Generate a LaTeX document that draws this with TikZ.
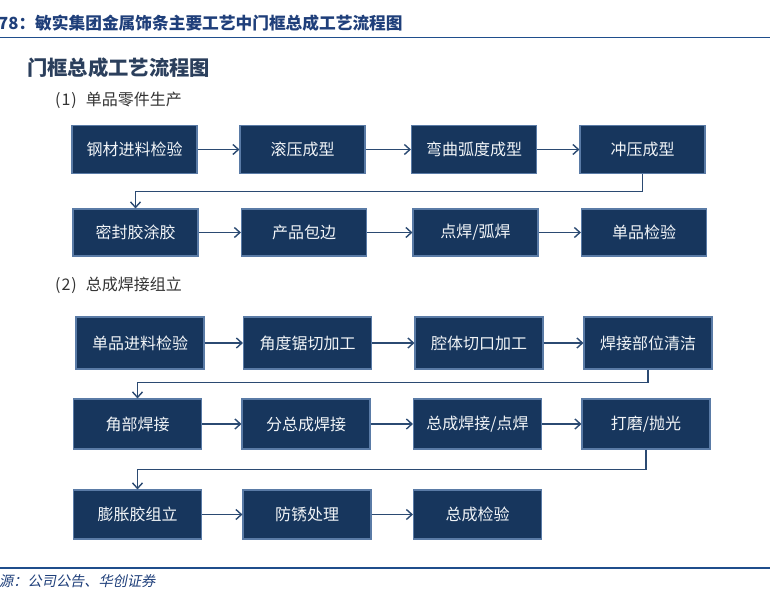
\documentclass[tikz,border=0pt]{standalone}
\usepackage{fontspec}
\setmainfont{Noto Sans CJK SC}
\newfontfamily\slfont{Noto Sans CJK SC}[FakeSlant=0.2]
\usetikzlibrary{arrows.meta}
\definecolor{boxfill}{HTML}{17365D}
\definecolor{boxline}{HTML}{5A7BA6}
\definecolor{arrowc}{HTML}{2B4A72}
\definecolor{hdrblue}{HTML}{1F3F7A}
\definecolor{rulec}{HTML}{1F4E8C}
\definecolor{titlec}{HTML}{2B3F5C}
\definecolor{secc}{HTML}{333333}
\tikzset{
  stepbox/.style={draw=boxline, line width=1.1pt, fill=boxfill, text=white!92!boxline,
    font=\fontsize{16}{18}\selectfont, inner sep=0pt},
  rowA/.style={stepbox, minimum width=125pt, minimum height=48pt},
  rowB/.style={stepbox, minimum width=128pt, minimum height=50pt},
  flow/.style={draw=arrowc, line width=1.4pt, -{Straight Barb[length=5.5pt,width=10pt]}},
  sec/.style={anchor=west, text=secc, font=\fontsize{16}{18}\selectfont, inner sep=0pt},
}
\begin{document}
\begin{tikzpicture}[x=1pt,y=-1pt]
\useasboundingbox (0,0) rectangle (770,601);
% header
\node[anchor=base west, inner sep=0pt, text=hdrblue, font=\bfseries\fontsize{16.7}{18}\selectfont] (hdr) at (-2,30) {78：敏实集团金属饰条主要工艺中门框总成工艺流程图};
\draw[rulec, line width=1.6pt] (0,37.5) coordinate (hl) -- (770,37.5) coordinate (hr);
\node[anchor=west, inner sep=0pt, text=titlec, font=\bfseries\fontsize{20.3}{24}\selectfont] (title) at (27,68) {门框总成工艺流程图};
\node[sec] (s1) at (55,100) {(\hspace{1pt}1\hspace{1pt})\hspace{9pt}单品零件生产};
\node[sec] (s2) at (55,285) {(\hspace{1pt}2\hspace{1pt})\hspace{9pt}总成焊接组立};
% row 1
\node[rowA] (a1) at (134.5,149.5) {钢材进料检验};
\node[rowA] (a2) at (302.5,149.5) {滚压成型};
\node[rowA] (a3) at (474,149.5) {弯曲弧度成型};
\node[rowA] (a4) at (642.5,149.5) {冲压成型};
% row 2
\node[rowA, minimum height=47pt] (b1) at (135.5,232.5) {密封胶涂胶};
\node[rowA, minimum height=47pt] (b2) at (304,232.5) {产品包边};
\node[rowA, minimum height=47pt] (b3) at (475.5,232.5) {点焊/弧焊};
\node[rowA, minimum height=47pt] (b4) at (644,232.5) {单品检验};
% row 3
\node[rowB, minimum height=52pt] (c1) at (140,343) {单品进料检验};
\node[rowB, minimum height=52pt] (c2) at (307.5,343) {角度锯切加工};
\node[rowB, minimum height=52pt] (c3) at (479,343) {腔体切口加工};
\node[rowB, minimum height=52pt] (c4) at (648,343) {焊接部位清洁};
% row 4
\node[rowB] (d1) at (137.5,424) {角部焊接};
\node[rowB] (d2) at (306,424) {分总成焊接};
\node[rowB] (d3) at (477.5,424) {总成焊接/点焊};
\node[rowB] (d4) at (646,424) {打磨/抛光};
% row 5
\node[rowB, minimum height=49pt] (e1) at (137.5,514.5) {膨胀胶组立};
\node[rowB, minimum height=49pt] (e2) at (307,514.5) {防锈处理};
\node[rowB, minimum height=49pt] (e3) at (477.5,514.5) {总成检验};
% arrows
\foreach \r in {a,b,c,d}{
  \draw[flow] (\r1) -- (\r2);
  \draw[flow] (\r2) -- (\r3);
  \draw[flow] (\r3) -- (\r4);
}
\draw[flow] (e1) -- (e2);
\draw[flow] (e2) -- (e3);
\draw[flow] (a4.south) -- ++(0,17.5) -| (b1.north);
\draw[flow] (c4.south) -- ++(0,13) -| (d1.north);
\draw[flow] (d4.south) -- ++(0,20) -| (e1.north);
% footer
\draw[rulec, line width=1.6pt] (0,568) coordinate (fl) -- (770,568) coordinate (fr);
\node[anchor=west, inner sep=0pt, text=hdrblue, font=\slfont\fontsize{14.2}{16}\selectfont] (src) at (-1,581) {源：公司公告、华创证券};
\end{tikzpicture}
\end{document}
